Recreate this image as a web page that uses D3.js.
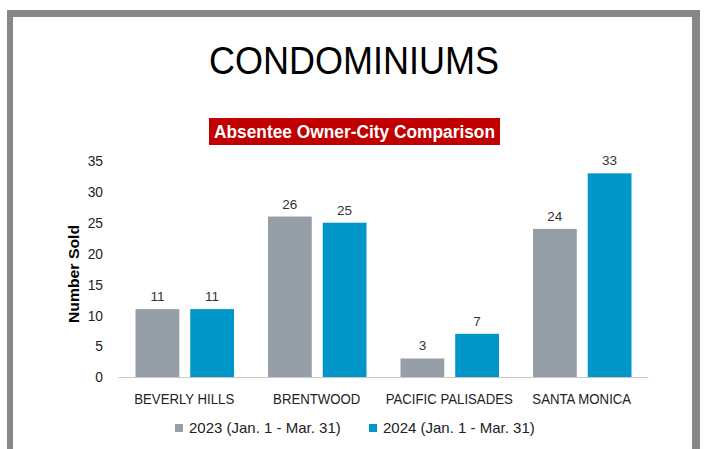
<!DOCTYPE html>
<html><head><meta charset="utf-8">
<script src="https://cdn.jsdelivr.net/npm/d3@7"></script>
<style>body{margin:0;background:#fff;}svg{display:block;}</style>
</head><body>
<svg id="chart" width="705" height="449"></svg>
<script>
const categories = ["BEVERLY HILLS", "BRENTWOOD", "PACIFIC PALISADES", "SANTA MONICA"];
const seriesNames = ["2023 (Jan. 1 - Mar. 31)", "2024 (Jan. 1 - Mar. 31)"];
const values2023 = [11, 26, 3, 24];
const values2024 = [11, 25, 7, 33];
const yTicks = [0, 5, 10, 15, 20, 25, 30, 35];
const colors = ["#969FA7", "#0096C8"];
const titleText = "CONDOMINIUMS";
const subtitleText = "Absentee Owner-City Comparison";
const yAxisTitle = "Number Sold";

const font = "'Liberation Sans', Arial, sans-serif";
const svg = d3.select("#chart");

function squeeze(sel, f) {
  sel.each(function() {
    const w = this.getComputedTextLength();
    d3.select(this).attr("textLength", w * f).attr("lengthAdjust", "spacingAndGlyphs");
  });
}

// frame
svg.append("rect").attr("x", 7).attr("y", 10).attr("width", 693).attr("height", 445).attr("fill", "#878787");
svg.append("rect").attr("x", 13).attr("y", 17).attr("width", 679).attr("height", 440).attr("fill", "#fff");

svg.append("text").attr("x", 354).attr("y", 74).attr("text-anchor", "middle")
  .attr("font-family", font).attr("font-size", 39).attr("fill", "#000")
  .attr("textLength", 290).attr("lengthAdjust", "spacingAndGlyphs").text(titleText);

svg.append("rect").attr("x", 209).attr("y", 118).attr("width", 291).attr("height", 27).attr("fill", "#C00000");
svg.append("text").attr("x", 354.5).attr("y", 138).attr("text-anchor", "middle")
  .attr("font-family", font).attr("font-size", 18).attr("font-weight", "bold").attr("fill", "#fff")
  .attr("textLength", 281).attr("lengthAdjust", "spacingAndGlyphs").text(subtitleText);

const x0 = d3.scaleBand().domain(categories).range([118, 648]).paddingInner(0).paddingOuter(0);
const x1 = d3.scaleBand().domain([0, 1]).range([17.5, x0.bandwidth() - 16.5]).paddingInner(0.2);
const y = d3.scaleLinear().domain([0, 35]).range([377, 161]);

// y axis labels
const yAxis = d3.axisLeft(y).tickValues(yTicks).tickSize(0).tickPadding(0);
const yg = svg.append("g").attr("transform", "translate(103,0)").call(yAxis);
yg.select(".domain").remove();
yg.selectAll("text").attr("font-family", font).attr("font-size", 15).attr("fill", "#222");
squeeze(yg.selectAll("text"), 0.92);

// x axis
const xAxis = d3.axisBottom(x0).tickSize(0).tickPadding(16);
const xg = svg.append("g").attr("transform", "translate(0,377)").call(xAxis);
xg.select(".domain").attr("stroke", "#c8c8c8").attr("stroke-width", 1.2);
xg.selectAll("text").attr("font-family", font).attr("font-size", 15).attr("fill", "#222");
squeeze(xg.selectAll("text"), 0.88);

const data = categories.map((c, i) => ({cat: c, vals: [values2023[i], values2024[i]]}));
const groups = svg.append("g").selectAll("g").data(data).join("g")
  .attr("transform", d => `translate(${x0(d.cat)},0)`);
groups.selectAll("rect").data(d => d.vals.map((v, j) => ({v, j}))).join("rect")
  .attr("x", d => x1(d.j)).attr("width", x1.bandwidth())
  .attr("y", d => y(d.v)).attr("height", d => y(0) - y(d.v))
  .attr("fill", d => colors[d.j]);
groups.selectAll("text").data(d => d.vals.map((v, j) => ({v, j}))).join("text")
  .attr("x", d => x1(d.j) + x1.bandwidth() / 2).attr("y", d => y(d.v) - 8)
  .attr("text-anchor", "middle").attr("font-family", font).attr("font-size", 13.5).attr("fill", "#333")
  .text(d => d.v);

// y axis title
svg.append("text").attr("transform", "translate(79,274) rotate(-90)").attr("text-anchor", "middle")
  .attr("font-family", font).attr("font-size", 15.5).attr("font-weight", "bold").attr("fill", "#000")
  .attr("textLength", 98).attr("lengthAdjust", "spacingAndGlyphs")
  .text(yAxisTitle);

// legend
const legendX = [175, 369];
seriesNames.forEach((s, i) => {
  svg.append("rect").attr("x", legendX[i]).attr("y", 424).attr("width", 8).attr("height", 8).attr("fill", colors[i]);
  svg.append("text").attr("x", legendX[i] + 14).attr("y", 433).attr("font-family", font).attr("font-size", 15).attr("fill", "#222").text(s);
});
</script>
</body></html>
